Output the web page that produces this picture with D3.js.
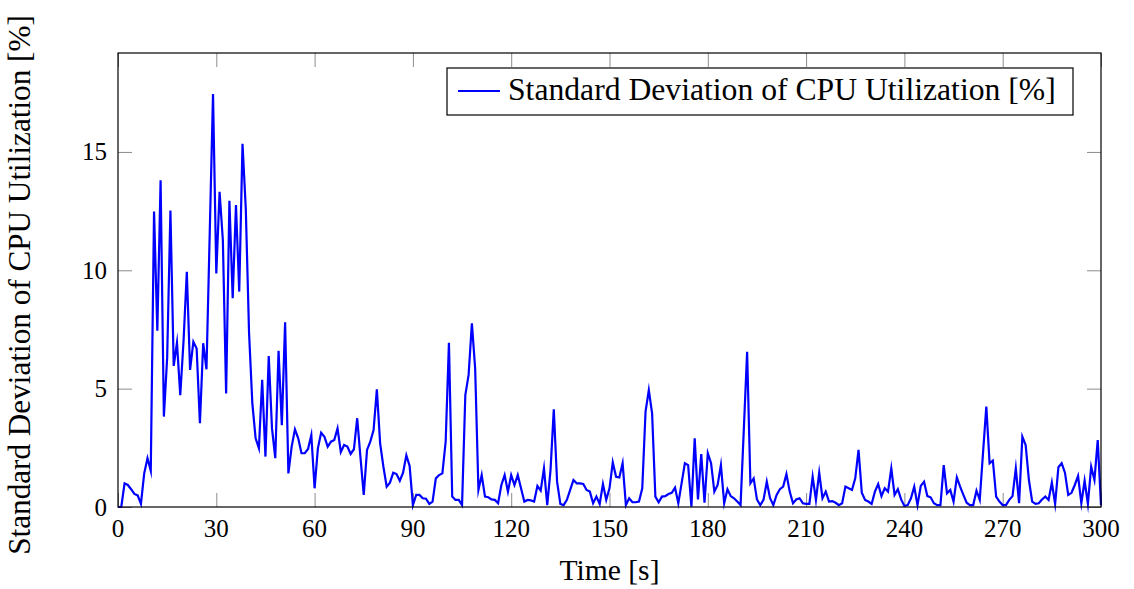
<!DOCTYPE html>
<html lang="en">
<head>
    <meta charset="UTF-8">
    <title>Standard Deviation of CPU Utilization</title>
    <script src="https://d3js.org/d3.v7.min.js"></script>
    <style>
        body { margin: 0; background: #fff; }
    </style>
</head>
<body>
    <svg width="1134" height="589" font-family="Liberation Serif, DejaVu Serif, serif"></svg>

    <script>
        // Values, one per second (t = 0 .. 300)
        const seriesName = "Standard Deviation of CPU Utilization [%]";
        const xTicks = [0, 30, 60, 90, 120, 150, 180, 210, 240, 270, 300];
        const yTicks = [0, 5, 10, 15];
        const stdDev = [
            0, 0, 1.0, 0.93, 0.75, 0.55, 0.49, 0.13, 1.42, 2.06,
            1.53, 12.48, 7.45, 13.8, 3.82, 6.3, 12.52, 5.96, 6.94, 4.72,
            7.0, 9.94, 5.79, 6.98, 6.7, 3.54, 6.92, 5.82, 11.6, 17.45,
            9.87, 13.32, 11.28, 4.8, 12.94, 8.82, 12.76, 9.1, 15.34, 12.6,
            7.34, 4.38, 2.9, 2.48, 5.37, 2.13, 6.38, 3.32, 2.06, 6.6,
            3.46, 7.8, 1.42, 2.55, 3.28, 2.9, 2.27, 2.27, 2.45, 3.04,
            0.79, 2.48, 3.14, 2.97, 2.55, 2.76, 2.83, 3.32, 2.32, 2.62,
            2.55, 2.24, 2.44, 3.75, 2.1, 0.51, 2.41, 2.76, 3.25, 4.97,
            2.69, 1.7, 0.86, 1.03, 1.45, 1.39, 1.11, 1.45, 2.18, 1.73,
            0.08, 0.51, 0.51, 0.37, 0.35, 0.13, 0.23, 1.21, 1.35, 1.42,
            2.76, 6.94, 0.44, 0.3, 0.3, 0.08, 4.73, 5.58, 7.76, 5.86,
            0.72, 1.35, 0.44, 0.41, 0.32, 0.3, 0.16, 0.93, 1.35, 0.65,
            1.35, 0.93, 1.35, 0.79, 0.23, 0.3, 0.28, 0.23, 0.89, 0.69,
            1.63, 0.08, 1.56, 4.13, 1.07, 0.13, 0.08, 0.3, 0.72, 1.14,
            1.0, 1.0, 0.97, 0.72, 0.65, 0.16, 0.44, 0.13, 0.97, 0.3,
            0.79, 1.89, 1.28, 1.25, 1.85, 0.08, 0.37, 0.2, 0.2, 0.23,
            0.79, 4.03, 4.94, 3.96, 0.44, 0.2, 0.44, 0.46, 0.55, 0.6,
            0.82, 0.16, 1.0, 1.85, 1.77, 0.01, 2.9, 0.32, 2.24, 0.18,
            2.27, 1.85, 0.65, 0.93, 1.77, 0.16, 0.75, 0.46, 0.37, 0.23,
            0.08, 3.3, 6.56, 1.0, 1.21, 0.32, 0.08, 0.3, 1.07, 0.37,
            0.08, 0.51, 0.75, 0.86, 1.39, 0.65, 0.16, 0.32, 0.37, 0.16,
            0.13, 0.13, 1.28, 0.3, 1.45, 0.37, 0.65, 0.23, 0.25, 0.18,
            0.08, 0.16, 0.86, 0.79, 0.72, 1.21, 2.41, 0.6, 0.3, 0.23,
            0.13, 0.65, 0.97, 0.46, 0.79, 0.65, 1.63, 0.51, 0.75, 0.32,
            0.04, 0.08, 0.37, 0.86, 0.08, 0.89, 1.07, 0.46, 0.41, 0.16,
            0.08, 0.08, 1.77, 0.58, 0.72, 0.23, 1.25, 0.86, 0.51, 0.18,
            0.08, 0.08, 0.69, 0.3, 2.3, 4.24, 1.85, 1.96, 0.44, 0.23,
            0.08, 0.08, 0.3, 0.46, 1.63, 0.16, 2.97, 2.62, 1.14, 0.23,
            0.13, 0.16, 0.32, 0.44, 0.3, 1.03, 0.13, 1.68, 1.85, 1.45,
            0.51, 0.6, 0.93, 1.31, 0.16, 1.11, 0.13, 1.7, 1.14, 2.83,
            0.08
        ];

        const width = 1134;
        const height = 589;
        const margin = {top: 53, right: 33, bottom: 82, left: 118};
        const fontSize = 25;
        const serif = "Liberation Serif, DejaVu Serif, serif";

        const svg = d3.select("svg");

        const x = d3.scaleLinear()
            .domain([0, 300])
            .range([margin.left, width - margin.right]);

        const y = d3.scaleLinear()
            .domain([0, 19.18])
            .range([height - margin.bottom, margin.top]);

        const tickLen = 14;

        // tick marks pointing inwards, on all four sides
        function inward(g) {
            g.select(".domain").remove();
            g.selectAll("line").attr("stroke", "#8c8c8c");
        }

        svg.append("g")
            .attr("transform", `translate(0,${height - margin.bottom})`)
            .call(d3.axisBottom(x).tickValues(xTicks).tickSize(-tickLen).tickFormat(""))
            .call(inward);

        svg.append("g")
            .attr("transform", `translate(0,${margin.top})`)
            .call(d3.axisTop(x).tickValues(xTicks).tickSize(-tickLen).tickFormat(""))
            .call(inward);

        svg.append("g")
            .attr("transform", `translate(${margin.left},0)`)
            .call(d3.axisLeft(y).tickValues(yTicks).tickSize(-tickLen).tickFormat(""))
            .call(inward);

        svg.append("g")
            .attr("transform", `translate(${width - margin.right},0)`)
            .call(d3.axisRight(y).tickValues(yTicks).tickSize(-tickLen).tickFormat(""))
            .call(inward);

        // tick labels
        svg.append("g").selectAll("text")
            .data(xTicks)
            .enter()
            .append("text")
            .attr("x", d => x(d))
            .attr("y", height - margin.bottom + 30)
            .attr("text-anchor", "middle")
            .attr("font-family", serif)
            .style("font-size", fontSize + "px")
            .text(d => d);

        svg.append("g").selectAll("text")
            .data(yTicks)
            .enter()
            .append("text")
            .attr("x", margin.left - 11)
            .attr("y", d => y(d) + 8.5)
            .attr("text-anchor", "end")
            .attr("font-family", serif)
            .style("font-size", fontSize + "px")
            .text(d => d);

        // the data line
        const line = d3.line()
            .x((d, i) => x(i))
            .y(d => y(d));

        svg.append("path")
            .datum(stdDev)
            .attr("d", line)
            .attr("fill", "none")
            .attr("stroke", "#0000ff")
            .attr("stroke-width", 2.2)
            .attr("stroke-linejoin", "miter")
            .attr("stroke-miterlimit", 10);

        // frame
        svg.append("rect")
            .attr("x", margin.left)
            .attr("y", margin.top)
            .attr("width", width - margin.left - margin.right)
            .attr("height", height - margin.top - margin.bottom)
            .attr("fill", "none")
            .attr("stroke", "#000")
            .attr("stroke-width", 1.2);

        // fit a font size so that a label gets the reference width
        function fitSize(sel, target) {
            const w = sel.node().getComputedTextLength();
            sel.style("font-size", (fontSize * target / w) + "px");
        }

        // axis labels
        const xLabel = svg.append("text")
            .attr("text-anchor", "middle")
            .attr("x", (margin.left + width - margin.right) / 2)
            .attr("y", 580)
            .attr("font-family", serif)
            .style("font-size", fontSize + "px")
            .text("Time [s]");
        fitSize(xLabel, 100);

        const yLabel = svg.append("text")
            .attr("text-anchor", "middle")
            .attr("transform", "translate(30,285) rotate(-90)")
            .attr("font-family", serif)
            .style("font-size", fontSize + "px")
            .text(seriesName);
        fitSize(yLabel, 540);

        // legend
        const legend = svg.append("g");
        legend.append("rect")
            .attr("x", 447)
            .attr("y", 68)
            .attr("width", 626)
            .attr("height", 47)
            .attr("fill", "#fff")
            .attr("stroke", "#000")
            .attr("stroke-width", 1.2);
        legend.append("line")
            .attr("x1", 458)
            .attr("x2", 500)
            .attr("y1", 91)
            .attr("y2", 91)
            .attr("stroke", "#0000ff")
            .attr("stroke-width", 2.2);
        const legendText = legend.append("text")
            .attr("x", 508)
            .attr("y", 100)
            .attr("font-family", serif)
            .style("font-size", fontSize + "px")
            .text(seriesName);
        fitSize(legendText, 548);
    </script>
</body>
</html>
